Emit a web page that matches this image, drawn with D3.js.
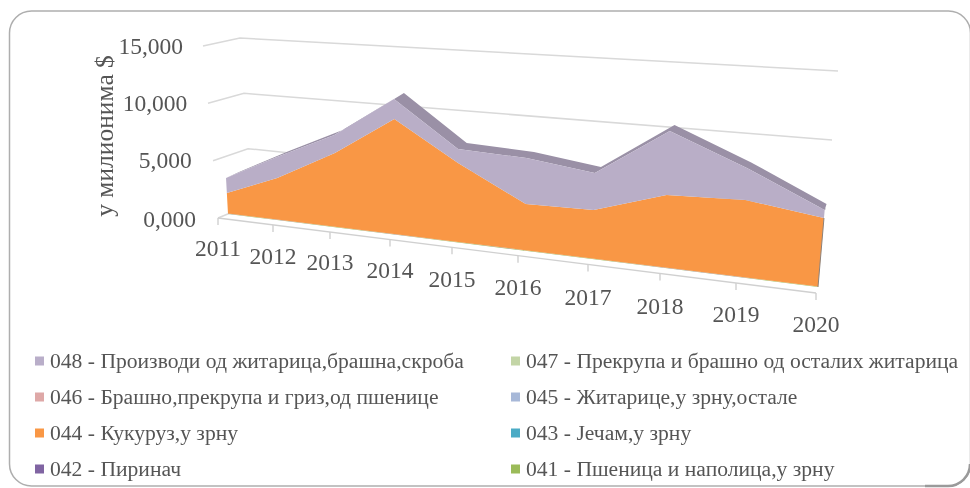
<!DOCTYPE html>
<html>
<head>
<meta charset="utf-8">
<script src="https://cdn.jsdelivr.net/npm/d3@7"></script>
<style>
html, body { margin: 0; background: #fff; }
svg { display: block; filter: blur(0.6px); }
text { font-family: "Liberation Serif", serif; fill: #555; }
</style>
</head>
<body>
<svg id="chart" width="970" height="488"></svg>
<script>
const years = [2011, 2012, 2013, 2014, 2015, 2016, 2017, 2018, 2019, 2020];
const yTicks = [0, 5, 10, 15];

// stacking order, bottom first
const seriesKeys = ["041", "042", "043", "044", "045", "046", "047", "048"];
const s041 = [0.03, 0.03, 0.03, 0.03, 0.03, 0.03, 0.03, 0.03, 0.03, 0.03];
const s042 = [0.01, 0.01, 0.01, 0.01, 0.01, 0.01, 0.01, 0.01, 0.01, 0.01];
const s043 = [0, 0, 0, 0, 0, 0, 0, 0, 0, 0];
const s044 = [1.79, 3.53, 6.05, 9.11, 6.04, 3.41, 3.46, 4.98, 5.10, 4.38];
const s045 = [0, 0, 0, 0, 0, 0, 0, 0, 0, 0];
const s046 = [0, 0, 0, 0, 0, 0, 0, 0, 0, 0];
const s047 = [0, 0, 0, 0, 0, 0, 0, 0, 0, 0];
const s048 = [1.31, 1.76, 1.47, 1.58, 1.07, 3.39, 2.64, 4.41, 2.11, 0.52];

const legendLabels = [
    "048 - Производи од житарица,брашна,скроба",
    "047 - Прекрупа и брашно од осталих житарица",
    "046 - Брашно,прекрупа и гриз,од пшенице",
    "045 - Житарице,у зрну,остале",
    "044 - Кукуруз,у зрну",
    "043 - Јечам,у зрну",
    "042 - Пиринач",
    "041 - Пшеница и наполица,у зрну"
];
const legendColors = ["#b9aec9", "#c3d5a6", "#dea8a7", "#a7b8d8", "#f99745", "#4babc5", "#8064a2", "#9bbb59"];
const seriesColors = {"041": "#9bbb59", "042": "#8064a2", "043": "#4babc5", "044": "#f99745",
    "045": "#a7b8d8", "046": "#dea8a7", "047": "#c3d5a6", "048": "#b9aec7"};

const svg = d3.select("#chart");
const locale = d3.formatLocale({decimal: ",", thousands: ".", grouping: [3], currency: ["", "$"]});
const fmt = locale.format(".3f");

svg.append("rect")
    .attr("x", 9.5).attr("y", 11).attr("width", 961).attr("height", 475)
    .attr("rx", 22).attr("ry", 22)
    .attr("fill", "#fff").attr("stroke", "#aeaeae").attr("stroke-width", 1.5);
// shadow on the lower right corner
svg.append("path")
    .attr("d", "M925,486H948A22,22 0 0 0 970,464")
    .attr("fill", "none")
    .attr("stroke", "#9a9a9a")
    .attr("stroke-width", 2.5);

// the 3D box is faked with plain scales: front edge, walls, perspective
const baseX = d3.scaleLinear().domain(years).range([228, 279, 337, 396, 458, 525, 592, 663, 740, 818]);
const baseY = d3.scaleLinear().domain([228, 818]).range([214, 287]);
const unit = d3.scaleLinear().domain([228, 818]).range([11.47, 15.6]);
const depthX = d3.scaleLinear().domain([228, 818]).range([13, 2]);
const depthY = -6;

function project(year, value) {
    let bx = baseX(year);
    let h = value * unit(bx);
    return [bx + (bx - 457) * 0.00024 * h, baseY(bx) - h];
}

const wallFrontX = d3.scaleLinear().domain([0, 15]).range([218, 203]);
const wallFrontY = d3.scaleLinear().domain([0, 15]).range([218, 46]);
const backLeftX = d3.scaleLinear().domain([0, 15]).range([252, 240]);
const backLeftY = d3.scaleLinear().domain([0, 15]).range([204, 38]);
const backRightX = d3.scaleLinear().domain([0, 5, 15]).range([815, 826, 838]);
const backRightY = d3.scaleLinear().domain([0, 15]).range([278, 71]);

const line = d3.line();

svg.append("g").selectAll("path")
    .data(yTicks)
    .enter().append("path")
    .attr("d", d => line([
        [wallFrontX(d), wallFrontY(d)],
        [backLeftX(d), backLeftY(d)],
        [backRightX(d), backRightY(d)]
    ]))
    .attr("fill", "none")
    .attr("stroke", "#d9d9d9")
    .attr("stroke-width", 1.5);

// stack
const rows = years.map((y, i) => ({
    year: y, "041": s041[i], "042": s042[i], "043": s043[i], "044": s044[i],
    "045": s045[i], "046": s046[i], "047": s047[i], "048": s048[i]
}));
const stacked = d3.stack().keys(seriesKeys)(rows);
const topLayer = stacked[stacked.length - 1];

// top face of the pile, sticking out behind the front
const topFront = topLayer.map(d => project(d.data.year, d[1]));
const topBack = topFront.map(p => [p[0] + depthX(p[0]), p[1] + depthY]);
svg.append("path")
    .attr("d", line(topFront.concat(topBack.slice().reverse())) + "Z")
    .attr("fill", "#9a90a6");

const area = d3.area()
    .x0(d => project(d.data.year, d[0])[0])
    .y0(d => project(d.data.year, d[0])[1])
    .x1(d => project(d.data.year, d[1])[0])
    .y1(d => project(d.data.year, d[1])[1]);

svg.append("g").selectAll("path")
    .data(stacked.filter(s => d3.max(s, d => d[1] - d[0]) > 0))
    .enter().append("path")
    .attr("d", area)
    .attr("fill", d => seriesColors[d.key]);

// right end of the pile
let lastBase = project(2020, 0);
let lastOrange = project(2020, stacked[3][9][1]);
svg.append("path")
    .attr("d", line([lastBase, lastOrange]))
    .attr("fill", "none")
    .attr("stroke", "#8d8078")
    .attr("stroke-width", 1);

// floor axis, ticks moved along the slanted edge
const axisX = d3.scaleLinear().domain(years).range([218, 273, 330, 390, 452, 518, 588, 660, 736, 816]);
const axisY = d3.scaleLinear().domain([218, 816]).range([218, 293]);
const labelY = d3.scaleLinear().domain(years).range([248, 256, 262, 270, 279, 287, 297, 306, 314, 324]);

const gx = svg.append("g")
    .call(d3.axisBottom(axisX).tickValues(years).tickFormat(d3.format("d")).tickSizeOuter(0).tickSize(7));
gx.select(".domain").remove();
gx.selectAll(".tick")
    .attr("transform", d => "translate(" + axisX(d) + "," + axisY(axisX(d)) + ")");
gx.selectAll(".tick line").attr("stroke", "#d0d0d0").attr("stroke-width", 1.4);
gx.selectAll(".tick text")
    .attr("y", d => labelY(d) - axisY(axisX(d)))
    .attr("dy", "0.35em")
    .attr("font-size", 23.5);
gx.attr("font-family", null).attr("font-size", null);
svg.append("path")
    .attr("d", line([[axisX(2011), axisY(axisX(2011))], [axisX(2020), axisY(axisX(2020))]]))
    .attr("stroke", "#d0d0d0")
    .attr("stroke-width", 1.4);

// value axis
const labelRight = d3.scaleLinear().domain([0, 15]).range([196, 183]);
const gy = svg.append("g")
    .call(d3.axisLeft(wallFrontY).tickValues(yTicks).tickFormat(fmt).tickSize(0));
gy.select(".domain").remove();
gy.selectAll(".tick")
    .attr("transform", d => "translate(" + labelRight(d) + "," + (wallFrontY(d) + (d ? 0 : 1)) + ")");
gy.selectAll(".tick text")
    .attr("x", 0)
    .attr("font-size", 23.5);
gy.attr("font-family", null).attr("font-size", null);

svg.append("text")
    .attr("transform", "translate(113,136) rotate(-90)")
    .attr("text-anchor", "middle")
    .attr("font-size", 25.5)
    .text("у милионима $");

// legend, two columns
const legendX = d3.scaleOrdinal().domain([0, 1]).range([35, 511]);
const legendY = d3.scalePoint().domain([0, 1, 2, 3]).range([361, 469]);

const item = svg.append("g").selectAll("g")
    .data(legendLabels)
    .enter().append("g")
    .attr("transform", (d, i) => "translate(" + legendX(i % 2) + "," + legendY(Math.floor(i / 2)) + ")");
item.append("rect")
    .attr("x", 0).attr("y", -4.5).attr("width", 9).attr("height", 9)
    .attr("fill", (d, i) => legendColors[i]);
item.append("text")
    .attr("x", 15)
    .attr("dy", "0.33em")
    .attr("font-size", 21.6)
    .text(d => d);
</script>
</body>
</html>
